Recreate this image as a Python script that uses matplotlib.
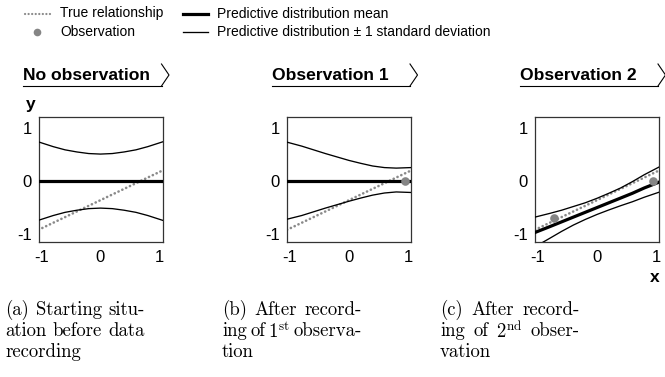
import matplotlib
matplotlib.use("Agg")
import matplotlib.pyplot as plt
from matplotlib.lines import Line2D

plt.rcParams["mathtext.fontset"] = "cm"

# ---- data ---------------------------------------------------------------
x_grid = [-1.05, -0.8, -0.6, -0.4, -0.2, 0.0, 0.2, 0.4, 0.6, 0.8, 1.05]

true_x = [-1.05, 1.05]
true_y = [-0.92, 0.20]

prior_mean = [0.0, 0.0, 0.0, 0.0, 0.0, 0.0, 0.0, 0.0, 0.0, 0.0, 0.0]
prior_upper = [0.74, 0.65, 0.59, 0.55, 0.52, 0.51, 0.52, 0.55, 0.59, 0.65, 0.74]
prior_lower = [-0.74, -0.65, -0.59, -0.55, -0.52, -0.51, -0.52, -0.55, -0.59, -0.65, -0.74]

post1_mean = [0.0, 0.0, 0.0, 0.0, 0.0, 0.0, 0.0, 0.0, 0.0, 0.0, 0.0]
post1_upper = [0.735, 0.66, 0.59, 0.52, 0.455, 0.39, 0.335, 0.285, 0.255, 0.245, 0.255]
post1_lower = [-0.72, -0.65, -0.58, -0.51, -0.445, -0.38, -0.32, -0.265, -0.225, -0.205, -0.215]

post2_mean = [-0.97, -0.86, -0.77, -0.68, -0.59, -0.50, -0.41, -0.32, -0.23, -0.13, -0.02]
post2_upper = [-0.68, -0.61, -0.55, -0.48, -0.41, -0.325, -0.23, -0.13, -0.01, 0.12, 0.265]
post2_lower = [-1.24, -1.08, -0.95, -0.83, -0.725, -0.63, -0.545, -0.465, -0.39, -0.305, -0.21]

obs_x = [0.94, -0.73]
obs_y = [0.0, -0.70]

panel_titles = ["No observation", "Observation 1", "Observation 2"]
tick_values = [-1, 0, 1]
tick_labels = ["-1", "0", "1"]

captions = [
    [["(a)", "Starting", "situ-"], ["ation", "before", "data"], ["recording"]],
    [["(b)", "After", "record-"], ["ing", "of", r"1$^{\mathrm{st}}$", "observa-"], ["tion"]],
    [["(c)", "After", "record-"], ["ing", "of", r"2$^{\mathrm{nd}}$", "obser-"], ["vation"]],
]

# ---- figure -------------------------------------------------------------
W, H = 665, 377
fig = plt.figure(figsize=(W / 100, H / 100), dpi=100)
SANS = "Liberation Sans"
GRAY = "#8a8a8a"
DOTS = (0, (0.05, 1.55))


def fx(x):
    return x / W


def fy(y):
    return 1 - y / H


panels = [
    (prior_mean, prior_upper, prior_lower, 0),
    (post1_mean, post1_upper, post1_lower, 1),
    (post2_mean, post2_upper, post2_lower, 2),
]
ax_left_px = [38.5, 287.0, 535.0]
ax_w_px = 124.0
ax_top_px, ax_bot_px = 117.0, 242.0

for i, (mean, upper, lower, n_obs) in enumerate(panels):
    l = ax_left_px[i]
    ax = fig.add_axes([fx(l), fy(ax_bot_px), ax_w_px / W, (ax_bot_px - ax_top_px) / H])
    ax.set_xlim(-1.05, 1.05)
    ax.set_ylim(-1.15, 1.21)
    ax.plot(true_x, true_y, color=GRAY, lw=1.9, linestyle=DOTS,
            dash_capstyle="round", zorder=2)
    ax.plot(x_grid, upper, color="black", lw=0.95, zorder=3)
    ax.plot(x_grid, lower, color="black", lw=0.95, zorder=3)
    ax.plot(x_grid, mean, color="black", lw=2.3, zorder=4)
    if n_obs:
        ax.plot(obs_x[:n_obs], obs_y[:n_obs], "o", color="#858585", ms=6.2,
                mec="none", zorder=5, clip_on=False)

    ax.set_xticks(tick_values)
    ax.set_xticklabels(tick_labels, fontfamily=SANS, fontsize=12)
    ax.set_yticks(tick_values)
    ax.set_yticklabels(tick_labels, fontfamily=SANS, fontsize=12)
    ax.tick_params(axis="both", which="major", length=0)
    ax.tick_params(axis="x", which="major", pad=6)
    ax.tick_params(axis="y", which="major", pad=5)
    ax.set_xticks([0], minor=True)
    ax.set_yticks([0], minor=True)
    ax.tick_params(axis="x", which="minor", direction="in", length=3.5, width=0.9, color="#333333")
    ax.tick_params(axis="y", which="minor", direction="out", length=3, width=0.9, color="#333333")
    for s in ax.spines.values():
        s.set_linewidth(0.9)
        s.set_color("#333333")

    # panel heading with underline and chevron
    r = l + ax_w_px
    tx = l - 15.5
    fig.text(fx(tx), fy(75.5), panel_titles[i], fontfamily=SANS, fontsize=12.6,
             fontweight="bold", ha="left", va="center")
    fig.add_artist(Line2D([fx(tx), fx(r - 1)], [fy(86), fy(86)],
                          color="black", lw=0.8))
    fig.add_artist(Line2D([fx(r - 1), fx(r + 6.5), fx(r - 1)], [fy(86), fy(75), fy(64)],
                          color="black", lw=0.8))

# axis names
fig.text(fx(30.5), fy(104), "y", fontfamily=SANS, fontsize=12.5, fontweight="bold",
         ha="center", va="center")
fig.text(fx(655), fy(277), "x", fontfamily=SANS, fontsize=12.5, fontweight="bold",
         ha="center", va="center")

# legend
LEG = 10.0
fig.add_artist(Line2D([fx(25), fx(50)], [fy(13.5), fy(13.5)], color=GRAY, lw=1.6,
                      linestyle=DOTS, dash_capstyle="round"))
fig.text(fx(60), fy(13.5), "True relationship", fontfamily=SANS, fontsize=LEG, va="center")
fig.add_artist(Line2D([fx(36.5)], [fy(31.5)], marker="o", color="#858585", ms=5.5, mec="none"))
fig.text(fx(60), fy(31.5), "Observation", fontfamily=SANS, fontsize=LEG, va="center")
fig.add_artist(Line2D([fx(183), fx(208)], [fy(13.5), fy(13.5)], color="black", lw=2.3))
fig.text(fx(217), fy(13.5), "Predictive distribution mean", fontfamily=SANS, fontsize=LEG,
         va="center")
fig.add_artist(Line2D([fx(183), fx(208)], [fy(31.5), fy(31.5)], color="black", lw=0.95))
fig.text(fx(217), fy(31.5), "Predictive distribution \u00b1 1 standard deviation",
         fontfamily=SANS, fontsize=LEG, va="center")

# sub-figure captions, justified lines
renderer = fig.canvas.get_renderer()
CAP = dict(fontfamily="cmr10", fontsize=13.5, va="center", ha="left")
cap_x0 = [5.0, 222.0, 440.0]
cap_w = 140.0
line_y = [310.0, 331.5, 352.0]
for col, lines in enumerate(captions):
    x0 = cap_x0[col]
    for k, words in enumerate(lines):
        y = fy(line_y[k])
        if k == len(lines) - 1 or len(words) == 1:
            fig.text(fx(x0), y, " ".join(words), **CAP)
            continue
        texts = [fig.text(fx(x0), y, w, **CAP) for w in words]
        widths = [t.get_window_extent(renderer).width for t in texts]
        gap = (cap_w - sum(widths)) / (len(words) - 1)
        pos = x0
        for t, w in zip(texts, widths):
            t.set_x(fx(pos))
            pos += w + gap

fig.savefig("out.png", dpi=100)
